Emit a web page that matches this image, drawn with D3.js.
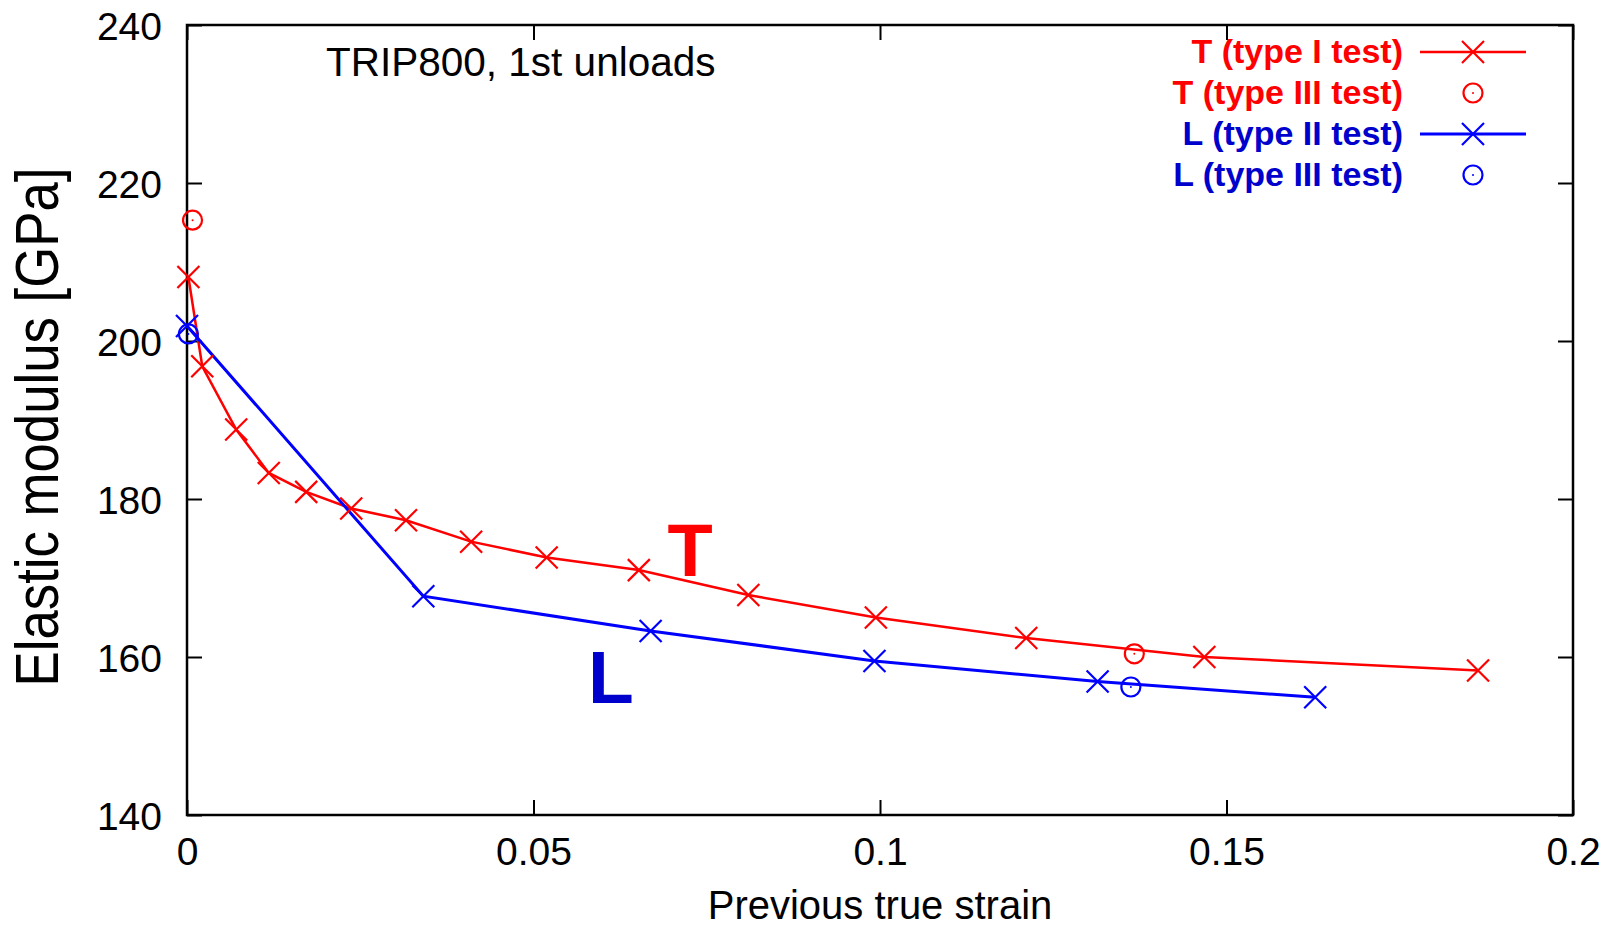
<!DOCTYPE html>
<html><head><meta charset="utf-8">
<script src="https://cdn.jsdelivr.net/npm/d3@7"></script>
<style>body{margin:0;background:#fff}svg{display:block}</style>
</head><body>
<svg id="c" width="1612" height="927"></svg>
<script>
// ---- data ----
const tType1Strain = [0.0002, 0.0022, 0.0071, 0.0118, 0.0172, 0.0237, 0.0316, 0.0410, 0.0519, 0.0652, 0.0810, 0.0994, 0.1211, 0.1468, 0.1863];
const tType1Modulus = [208.1, 196.8, 188.8, 183.3, 180.9, 178.8, 177.3, 174.6, 172.6, 171.0, 167.85, 165.0, 162.4, 160.0, 158.3];
const tType3Strain = [0.0008, 0.1367];
const tType3Modulus = [215.3, 160.4];
const lType2Strain = [0.0, 0.0341, 0.0669, 0.0992, 0.1314, 0.1628];
const lType2Modulus = [201.9, 167.7, 163.3, 159.5, 156.9, 154.9];
const lType3Strain = [0.0002, 0.1362];
const lType3Modulus = [200.9, 156.2];
const xTicks = [0, 0.05, 0.1, 0.15, 0.2];
const xTickLabels = ["0", "0.05", "0.1", "0.15", "0.2"];
const yTicks = [140, 160, 180, 200, 220, 240];
const yTickLabels = ["140", "160", "180", "200", "220", "240"];
const legendLabels = ["T (type I test)", "T (type III test)", "L (type II test)", "L (type III test)"];

// ---- layout ----
const L = 187, R = 1573, T = 25, B = 815;
const RED = "#ff0000", BLUE = "#0000ff", DBLUE = "#0000cc";
const FONT = "'Liberation Sans', Arial, Helvetica, sans-serif";

const svg = d3.select("#c");
const x = d3.scaleLinear().domain([0, 0.2]).range([L, R]);
const y = d3.scaleLinear().domain([140, 240]).range([B, T]);

// axes (inward ticks on all sides)
const gx = svg.append("g").attr("transform", `translate(0,${B})`)
  .call(d3.axisBottom(x).tickValues(xTicks).tickSize(-15).tickPadding(0).tickFormat((d, i) => xTickLabels[i]));
gx.selectAll("text").attr("y", 50).attr("dy", 0).style("font-size", "39px");
const gy = svg.append("g").attr("transform", `translate(${L},0)`)
  .call(d3.axisLeft(y).tickValues(yTicks).tickSize(-15).tickPadding(0).tickFormat((d, i) => yTickLabels[i]));
gy.selectAll("text").attr("x", -25).attr("dy", "0.36em").style("font-size", "39px");
svg.append("g").attr("transform", `translate(0,${T})`)
  .call(d3.axisTop(x).tickValues(xTicks).tickSize(-15).tickFormat(""));
svg.append("g").attr("transform", `translate(${R},0)`)
  .call(d3.axisRight(y).tickValues(yTicks).tickSize(-15).tickFormat(""));
svg.selectAll(".domain").remove();
svg.selectAll(".tick line").attr("stroke", "#000").attr("stroke-width", 2);
svg.selectAll(".tick text").attr("fill", "#000").style("font-family", FONT);

svg.append("rect").attr("x", L).attr("y", T).attr("width", R - L).attr("height", B - T)
  .attr("fill", "none").attr("stroke", "#000").attr("stroke-width", 2.5);

// axis titles
svg.append("text").attr("x", 880).attr("y", 919).attr("text-anchor", "middle")
  .style("font-family", FONT).style("font-size", "40px").text("Previous true strain");
svg.append("text").attr("transform", "translate(58,427) rotate(-90)").attr("text-anchor", "middle")
  .attr("textLength", 519).attr("lengthAdjust", "spacingAndGlyphs")
  .style("font-family", FONT).style("font-size", "62px").text("Elastic modulus [GPa]");

// annotation
svg.append("text").attr("x", 326).attr("y", 76)
  .style("font-family", FONT).style("font-size", "40.5px").text("TRIP800, 1st unloads");
svg.append("text").attr("x", 690).attr("y", 576).attr("text-anchor", "middle")
  .style("font-family", FONT).style("font-size", "74px").style("font-weight", "bold").attr("fill", RED).text("T");
svg.append("text").attr("x", 588).attr("y", 703)
  .style("font-family", FONT).style("font-size", "75px").style("font-weight", "bold").attr("fill", DBLUE).text("L");

// markers
const crossPath = h => `M${-h},${-h}L${h},${h}M${-h},${h}L${h},${-h}`;
function drawCross(g, cx, cy, color) {
  g.append("path").attr("transform", `translate(${cx},${cy})`).attr("d", crossPath(11))
    .attr("stroke", color).attr("stroke-width", 2.2).attr("fill", "none");
}
function drawCircle(g, cx, cy, color) {
  g.append("circle").attr("cx", cx).attr("cy", cy).attr("r", 9.5)
    .attr("stroke", color).attr("stroke-width", 2.2).attr("fill", "none");
  g.append("circle").attr("cx", cx).attr("cy", cy).attr("r", 1).attr("fill", color);
}

const line = d3.line().x(d => x(d[0])).y(d => y(d[1]));
const tData = tType1Strain.map((s, i) => [s, tType1Modulus[i]]);
const lData = lType2Strain.map((s, i) => [s, lType2Modulus[i]]);

const plot = svg.append("g");
plot.append("path").datum(tData).attr("d", line).attr("fill", "none").attr("stroke", RED).attr("stroke-width", 2.5);
plot.append("path").datum(lData).attr("d", line).attr("fill", "none").attr("stroke", BLUE).attr("stroke-width", 3);
tData.forEach(d => drawCross(plot, x(d[0]), y(d[1]), RED));
lData.forEach(d => drawCross(plot, x(d[0]), y(d[1]), BLUE));
tType3Strain.forEach((s, i) => drawCircle(plot, x(s), y(tType3Modulus[i]), RED));
lType3Strain.forEach((s, i) => drawCircle(plot, x(s), y(lType3Modulus[i]), BLUE));

// legend
const legendText = [RED, RED, DBLUE, DBLUE];
const legendColor = [RED, RED, BLUE, BLUE];
const legendKind = ["line", "point", "line", "point"];
const lg = svg.append("g");
legendLabels.forEach((lab, i) => {
  const by = 63 + 41 * i;
  lg.append("text").attr("x", 1403).attr("y", by).attr("text-anchor", "end")
    .style("font-family", FONT).style("font-size", "34px").style("font-weight", "bold")
    .attr("fill", legendText[i]).text(lab);
  const cy = by - 11;
  if (legendKind[i] === "line") {
    lg.append("line").attr("x1", 1420).attr("x2", 1526).attr("y1", cy).attr("y2", cy)
      .attr("stroke", legendColor[i]).attr("stroke-width", i < 2 ? 2.5 : 3);
    drawCross(lg, 1473, cy, legendColor[i]);
  } else {
    drawCircle(lg, 1473, cy, legendColor[i]);
  }
});
</script>
</body></html>
